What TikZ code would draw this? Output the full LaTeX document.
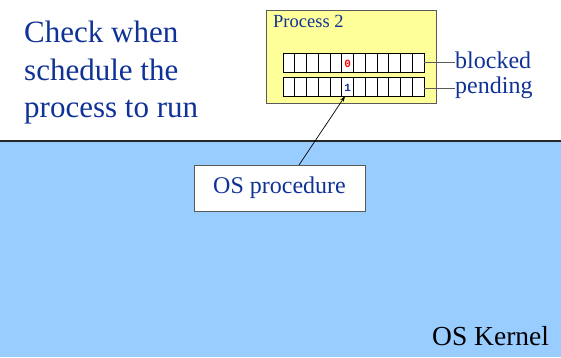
\documentclass[tikz,border=0pt]{standalone}
\usepackage{fontspec}
\setmainfont{Liberation Serif}
\newfontfamily\monofont{Liberation Mono}
\usetikzlibrary{arrows.meta,calc}
\definecolor{txtblue}{RGB}{16,50,150}
\definecolor{kernelblue}{RGB}{153,204,255}
\definecolor{procyellow}{RGB}{255,255,153}
\definecolor{edgegray}{RGB}{90,90,90}
\tikzset{
  cell/.style={draw=black,line width=0.7pt,fill=white,minimum width=11.75pt,minimum height=19pt,inner sep=0pt,outer sep=0pt,anchor=north west},
  bigtxt/.style={text=txtblue,font=\fontsize{31}{37}\selectfont,inner sep=0pt,anchor=base west},
  lbl/.style={text=txtblue,font=\fontsize{24}{28}\selectfont,inner sep=0pt,anchor=west},
  lead/.style={draw=edgegray,line width=1pt},
}
\begin{document}
\begin{tikzpicture}[x=1pt,y=-1pt]
\useasboundingbox (0,0) rectangle (561,357);
% kernel region
\fill[kernelblue] (0,142) rectangle (561,357);
\draw[line width=2pt,draw=black!85] (0,141) -- (561,141);
% left text
\node[bigtxt] (l1) at (24,42) {Check when};
\node[bigtxt] (l2) at (24,80) {schedule the};
\node[bigtxt] (l3) at (24,117) {process to run};
% process box
\node[draw=edgegray,line width=0.8pt,fill=procyellow,minimum width=170pt,minimum height=93pt,inner sep=0pt,anchor=north west] (proc) at (266,10) {};
\node[text=txtblue,font=\fontsize{18.5}{22}\selectfont,inner sep=0pt,anchor=base west] (ptitle) at (273,27) {Process 2};
% registers
\foreach \i in {0,...,11}{
  \node[cell] (b\i) at ({283+11.75*\i},53) {};
  \node[cell] (p\i) at ({283+11.75*\i},77) {};
}
\node[text=red,font=\monofont\bfseries\fontsize{11}{12}\selectfont,inner sep=0pt] (zero) at ($(b5.center)+(0,1.5)$) {0};
\node[text=txtblue,font=\monofont\bfseries\fontsize{11}{12}\selectfont,inner sep=0pt] (one) at ($(p5.center)+(0,1.5)$) {1};
% labels
\node[lbl] (blocked) at (455,60) {blocked};
\node[lbl] (pending) at (455,88) {pending};
\draw[lead] (b11.east |- 0,62) -- (blocked.west |- 0,62);
\draw[lead] (p11.east |- 0,88) -- (pending.west |- 0,88);
% OS procedure
\node[draw=edgegray,line width=0.8pt,fill=white,minimum width=171pt,minimum height=46pt,inner sep=0pt,anchor=north west] (osp) at (194,165) {};
\node[text=txtblue,font=\fontsize{24}{28}\selectfont,inner sep=0pt] (osptxt) at (279.5,188) {OS procedure};
\coordinate (ospstart) at (299,165);
\draw[line width=0.7pt,-{Stealth[length=6pt,width=4pt]}] (ospstart) -- ($(p5.south)+(-2.5,0)$);
% kernel label
\node[font=\fontsize{27.5}{32}\selectfont,inner sep=0pt,anchor=base west] (kernel) at (432,345) {OS Kernel};
\end{tikzpicture}
\end{document}
